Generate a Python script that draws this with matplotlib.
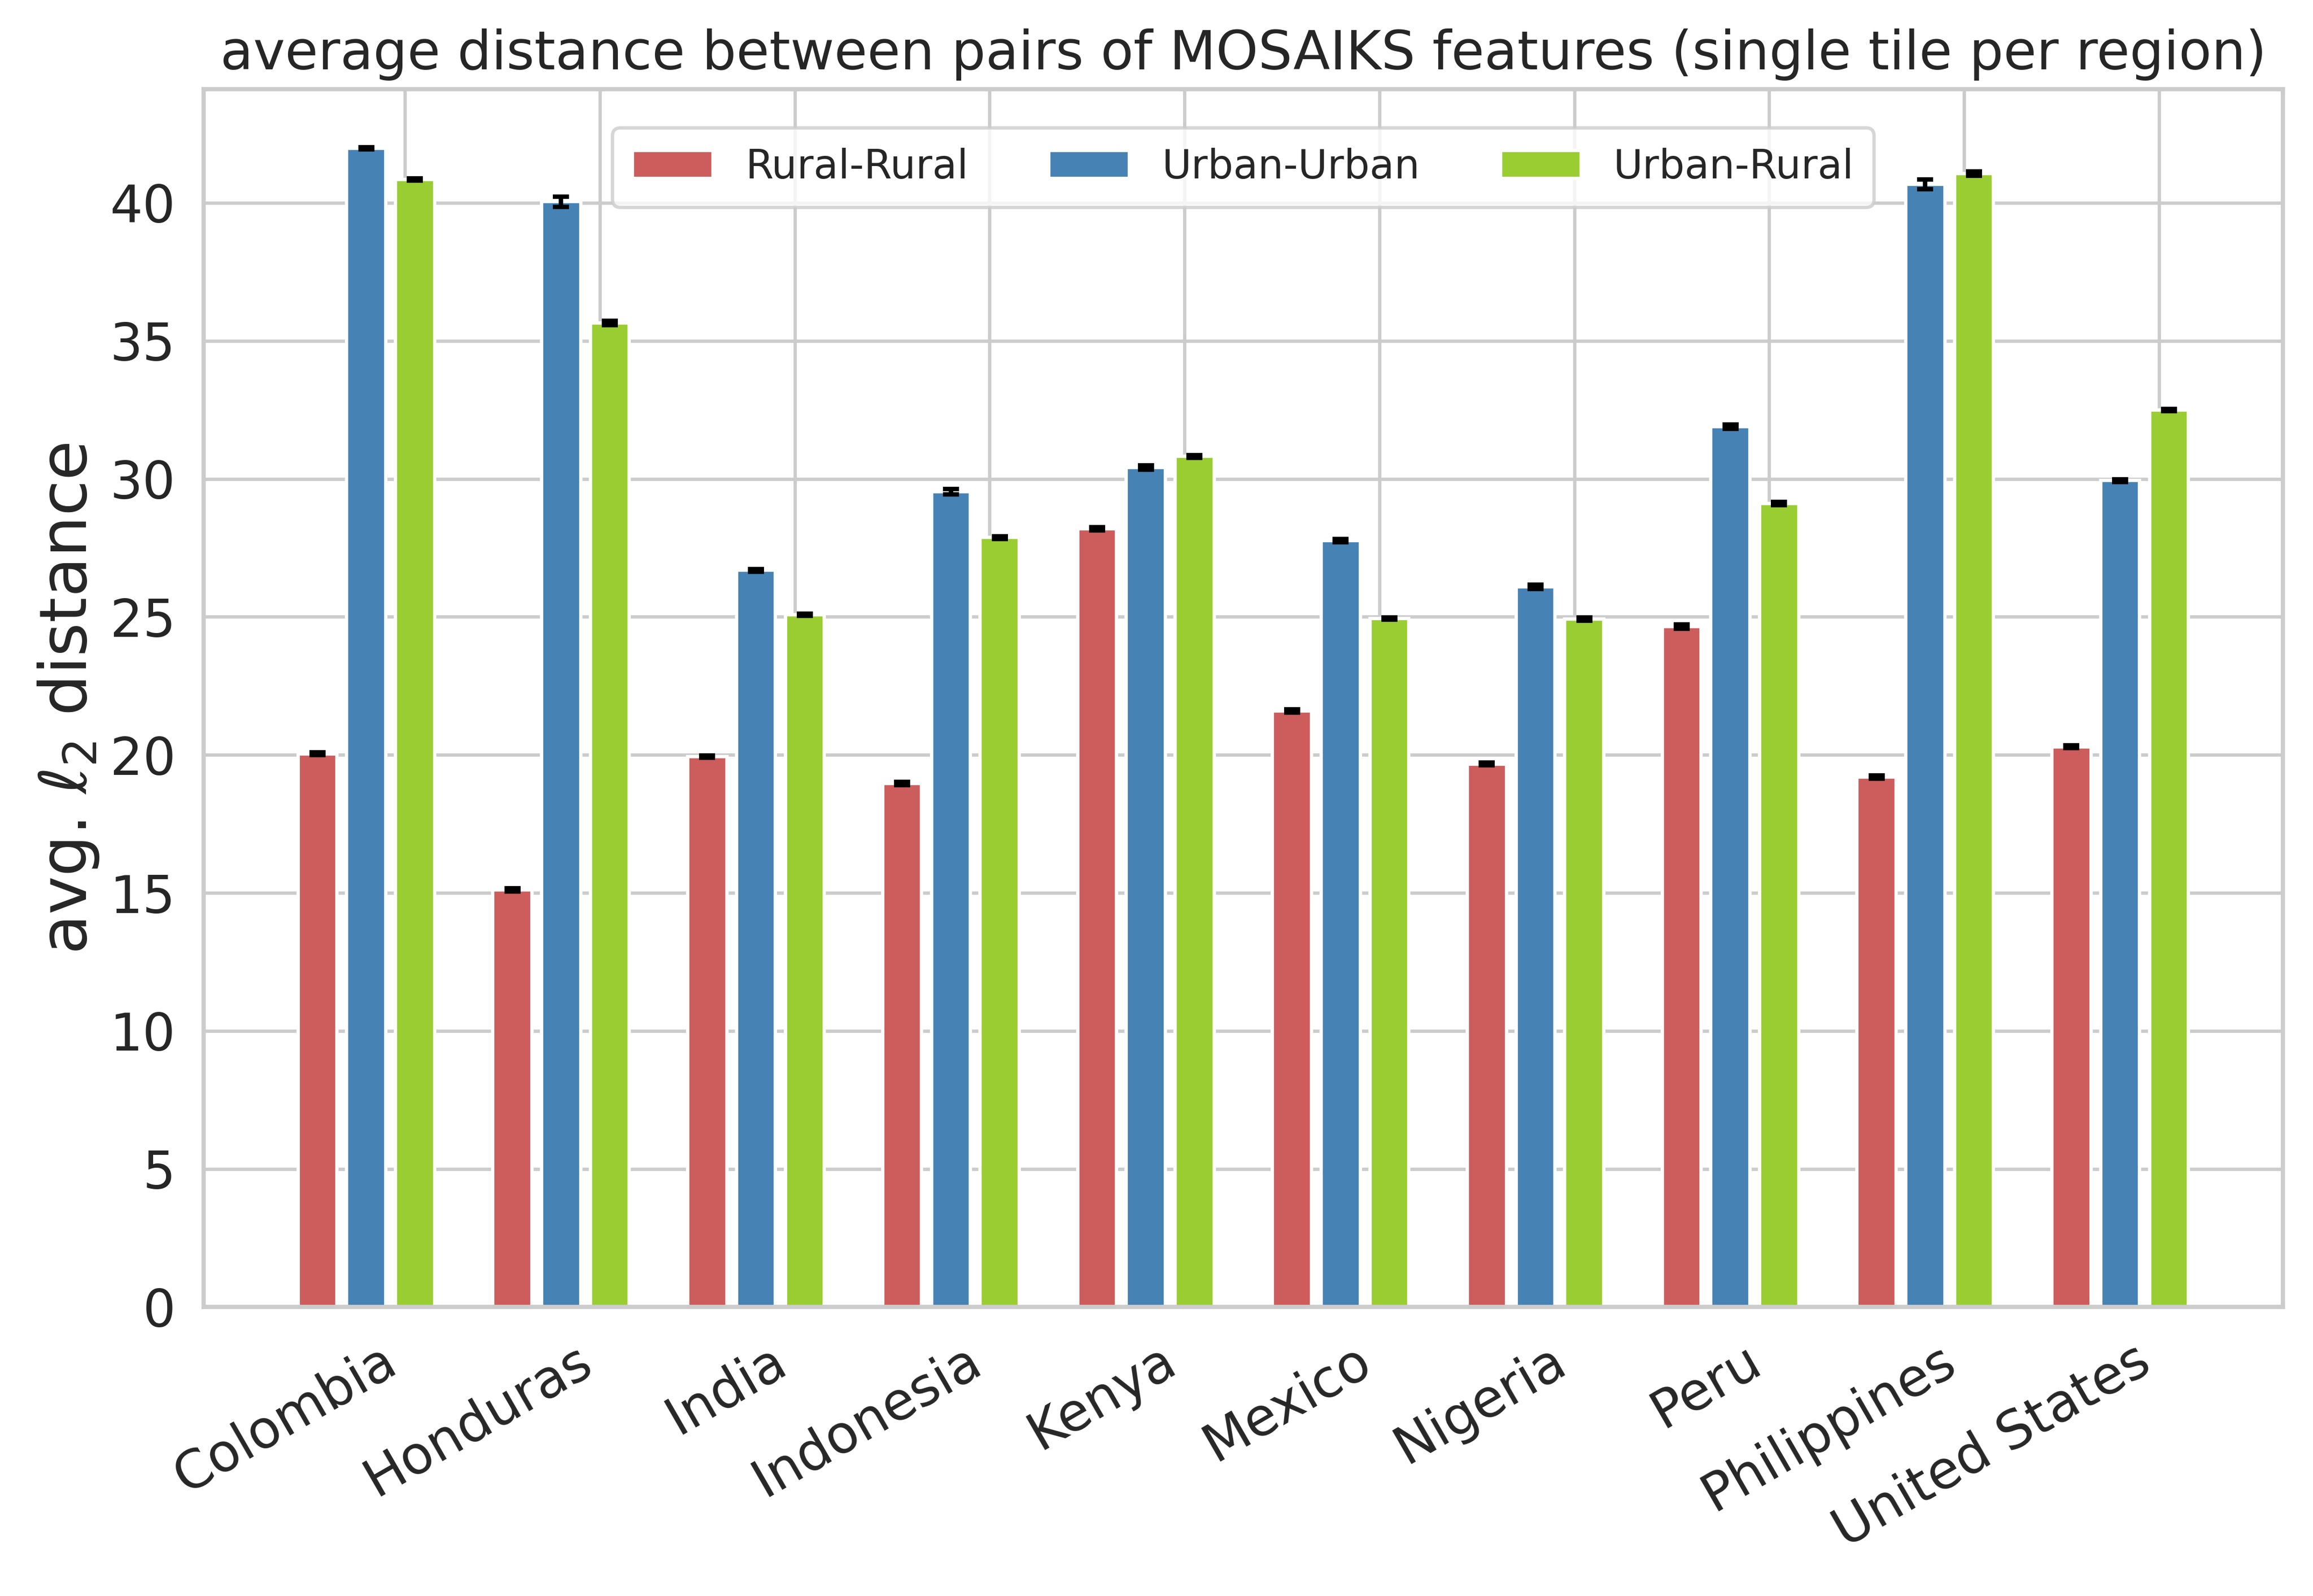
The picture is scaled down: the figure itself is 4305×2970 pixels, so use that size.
import numpy as np
import matplotlib
matplotlib.use("Agg")
import matplotlib.pyplot as plt
import seaborn as sns

countries = ["Colombia", "Honduras", "India", "Indonesia", "Kenya",
             "Mexico", "Nigeria", "Peru", "Philippines", "United States"]

rural_rural = [20.05, 15.12, 19.95, 18.98, 28.20, 21.60, 19.68, 24.66, 19.20, 20.30]
urban_urban = [41.98, 40.05, 26.70, 29.54, 30.42, 27.77, 26.10, 31.90, 40.68, 29.95]
urban_rural = [40.86, 35.66, 25.09, 27.88, 30.82, 24.95, 24.93, 29.12, 41.07, 32.50]

rural_rural_err = [0.05, 0.06, 0.04, 0.06, 0.05, 0.05, 0.05, 0.08, 0.06, 0.05]
urban_urban_err = [0.04, 0.18, 0.05, 0.10, 0.08, 0.06, 0.08, 0.07, 0.18, 0.05]
urban_rural_err = [0.04, 0.08, 0.04, 0.05, 0.05, 0.04, 0.05, 0.06, 0.08, 0.04]

labels = ["Rural-Rural", "Urban-Urban", "Urban-Rural"]
colors = ["indianred", "steelblue", "yellowgreen"]

sns.set_theme(style="whitegrid", context="talk")

fig, ax = plt.subplots(figsize=(14.35, 9.9))
x = np.arange(len(countries))
w = 0.2
step = 0.25

series = [(rural_rural, rural_rural_err), (urban_urban, urban_urban_err),
          (urban_rural, urban_rural_err)]
for i, (vals, errs) in enumerate(series):
    ax.bar(x - 0.45 + i * step, vals, width=w, yerr=errs, capsize=3.5,
           color=colors[i], label=labels[i],
           error_kw=dict(ecolor="black", elinewidth=2, capthick=2))

ax.set_xticks(x)
ax.set_xticklabels(countries, rotation=30, ha="right")
ax.tick_params(axis="x", labelsize=23.5)
ax.tick_params(axis="y", labelsize=23)
ax.set_ylabel(r"avg. $\ell_2$ distance", fontsize=29)
ax.set_title("average distance between pairs of MOSAIKS features (single tile per region)",
             fontsize=24, pad=9)
ax.legend(loc="upper center", ncol=3, fontsize=18, borderpad=0.5,
          bbox_to_anchor=(0.5, 0.985))

fig.subplots_adjust(left=0.088, right=0.987, top=0.944, bottom=0.181)
fig.savefig("out.png", dpi=300)
